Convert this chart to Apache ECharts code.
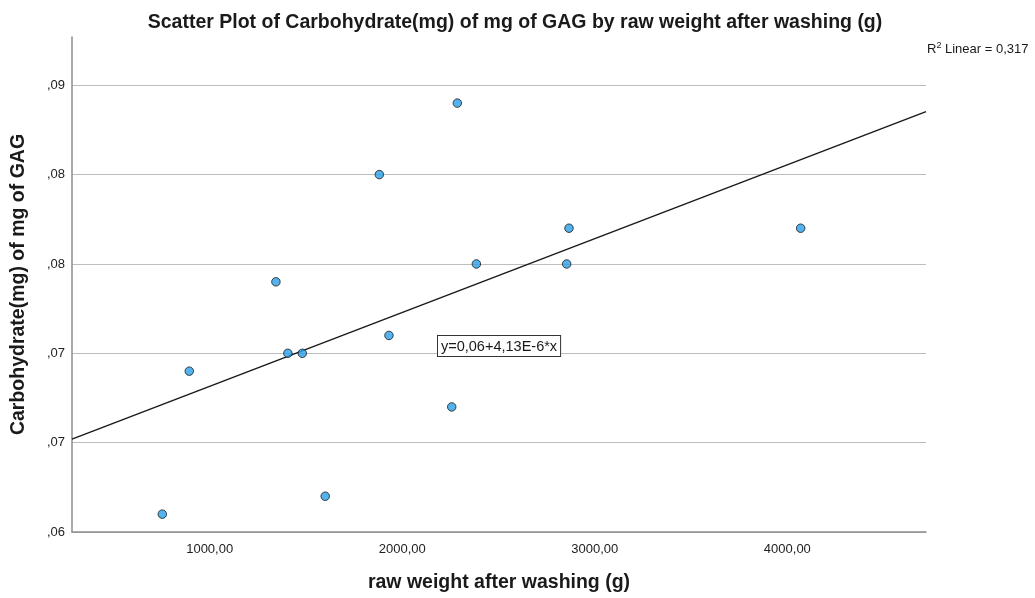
<!DOCTYPE html>
<html>
<head>
<meta charset="utf-8">
<script src="https://cdn.jsdelivr.net/npm/echarts@6/dist/echarts.min.js"></script>
<style>
  html, body { margin: 0; padding: 0; background: #fff; }
  #chart { width: 1035px; height: 598px; }
</style>
</head>
<body>
<div id="chart"></div>
<script>
// ---- data ----
const xValues = [754, 894, 1344, 1406, 1481, 1600, 1881, 1931, 2257, 2286, 2385, 2854, 2866, 4069];
const yValues = [0.061, 0.069, 0.074, 0.070, 0.070, 0.062, 0.080, 0.071, 0.067, 0.084, 0.075, 0.075, 0.077, 0.077];
const xTickValues = [1000, 2000, 3000, 4000];
const xTickLabels = ['1000,00', '2000,00', '3000,00', '4000,00'];
const yTickValues = [0.060, 0.065, 0.070, 0.075, 0.080, 0.085];
const yTickLabels = [',06', ',07', ',07', ',08', ',08', ',09'];
const xRange = [285, 4720];
const yRange = [0.060, 0.0877];

// ---- least squares fit ----
const n = xValues.length;
const mx = xValues.reduce((s, v) => s + v, 0) / n;
const my = yValues.reduce((s, v) => s + v, 0) / n;
let sxy = 0, sxx = 0, syy = 0;
for (let i = 0; i < n; i++) {
  sxy += (xValues[i] - mx) * (yValues[i] - my);
  sxx += (xValues[i] - mx) ** 2;
  syy += (yValues[i] - my) ** 2;
}
const slope = sxy / sxx;
const intercept = my - slope * mx;
const r2 = (sxy * sxy) / (sxx * syy);

const slopeExp = Math.floor(Math.log10(Math.abs(slope)));
const slopeMant = (slope / Math.pow(10, slopeExp)).toFixed(2).replace('.', ',');
const eqText = 'y=' + intercept.toFixed(2).replace('.', ',') + '+' + slopeMant + 'E' + slopeExp + '*x';
const r2Text = r2.toFixed(3).replace('.', ',');

const points = xValues.map((x, i) => [x, yValues[i]]);
const fitLine = xRange.map(x => [x, intercept + slope * x]);

const FONT = '"Liberation Sans", Arial, sans-serif';

const chart = echarts.init(document.getElementById('chart'), null, { renderer: 'canvas' });
chart.setOption({
  animation: false,
  backgroundColor: '#ffffff',
  title: {
    text: 'Scatter Plot of Carbohydrate(mg) of mg of GAG by raw weight after washing (g)',
    left: 510, top: 8, textAlign: 'center',
    textStyle: { fontFamily: FONT, fontSize: 19.5, fontWeight: 'bold', color: '#1a1a1a' }
  },
  grid: { left: 72, right: 109, top: 37, bottom: 64.5, containLabel: false },
  xAxis: {
    type: 'value',
    min: xRange[0], max: xRange[1],
    name: 'raw weight after washing (g)',
    nameLocation: 'middle', nameGap: 41,
    nameTextStyle: { fontFamily: FONT, fontSize: 19.5, fontWeight: 'bold', color: '#1a1a1a' },
    axisLine: { show: true, lineStyle: { color: '#8c8c8c', width: 1.5 } },
    axisTick: { show: false },
    splitLine: { show: false },
    axisLabel: {
      customValues: xTickValues,
      margin: 11,
      fontFamily: FONT, fontSize: 13, color: '#222',
      formatter: v => xTickLabels[xTickValues.indexOf(v)] || ''
    }
  },
  yAxis: {
    type: 'value',
    min: yRange[0], max: yRange[1], interval: 0.005,
    name: 'Carbohydrate(mg) of mg of GAG',
    nameLocation: 'middle', nameGap: 43,
    nameTextStyle: { fontFamily: FONT, fontSize: 19.5, fontWeight: 'bold', color: '#1a1a1a' },
    axisLine: { show: true, lineStyle: { color: '#8c8c8c', width: 1.5 } },
    axisTick: { show: false },
    splitLine: { show: true, showMaxLine: false, lineStyle: { color: '#bdbdbd', width: 1 } },
    axisLabel: {
      showMaxLabel: false,
      margin: 7,
      fontFamily: FONT, fontSize: 13, color: '#222',
      formatter: v => {
        const idx = Math.round((v - yTickValues[0]) / 0.005);
        return Math.abs(v - yTickValues[idx]) < 1e-6 ? yTickLabels[idx] : '';
      }
    }
  },
  series: [
    {
      type: 'line',
      data: fitLine,
      symbol: 'none',
      lineStyle: { color: '#1a1a1a', width: 1.5 },
      silent: true,
      z: 2
    },
    {
      type: 'scatter',
      data: points,
      symbol: 'circle',
      symbolSize: 8.5,
      itemStyle: { color: '#29a0ea', borderColor: '#1a1a1a', borderWidth: 1 },
      z: 3
    }
  ],
  graphic: [
    {
      type: 'text',
      left: 437, top: 335,
      style: {
        text: eqText,
        fontFamily: FONT, fontSize: 14.5, fill: '#1a1a1a',
        backgroundColor: '#ffffff',
        borderColor: '#333', borderWidth: 1,
        padding: [3, 3, 2, 3]
      },
      z: 10
    },
    {
      type: 'text',
      left: 927, top: 41,
      style: {
        rich: {
          a: { fontFamily: FONT, fontSize: 13, fill: '#1a1a1a', lineHeight: 18 },
          s: { fontFamily: FONT, fontSize: 9, fill: '#1a1a1a', lineHeight: 18, padding: [0, 0, 7, 0] }
        },
        text: '{a|R}{s|2}{a| Linear = ' + r2Text + '}'
      },
      z: 10
    }
  ]
});
</script>
</body>
</html>
